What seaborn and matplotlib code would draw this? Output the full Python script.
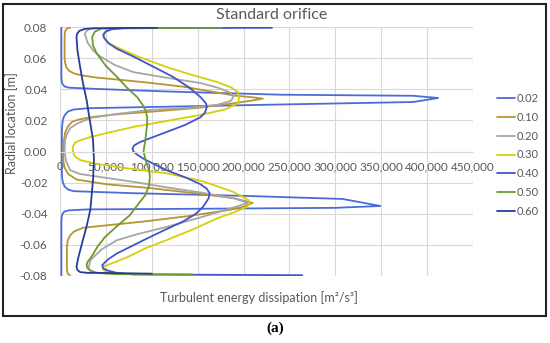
import matplotlib
matplotlib.use("Agg")
import matplotlib.pyplot as plt
import numpy as np
import pandas as pd
import seaborn as sns
from matplotlib.patches import Rectangle
from matplotlib.ticker import FuncFormatter

# ---------------------------------------------------------------------------
# data: dissipation [m2/s3] vs radial location [m]
# ---------------------------------------------------------------------------
series_labels = ["0.02", "0.10", "0.20", "0.30", "0.40", "0.50", "0.60"]
series_colors = ["#4a6cd8", "#b89530", "#a6a6a6", "#d6cf0a", "#3f55cc", "#6f9a2e", "#283c98"]

x_002 = [1500, 1500, 1700, 2500, 5000, 10000, 40000, 120000, 240000, 385000, 412000, 385000,
         240000, 100000, 30000, 15000, 9000, 6000, 4000, 3000, 2300, 2000, 2000, 2000, 2300,
         3200, 5000, 9000, 15000, 80000, 200000, 308000, 349000, 300000, 150000, 30000, 10000,
         5000, 2800, 1800, 1500, 1500]
y_002 = [0.080, 0.050, 0.046, 0.0435, 0.0418, 0.041, 0.0402, 0.0385, 0.0365, 0.0358, 0.0344, 0.0318,
         0.0302, 0.0286, 0.0278, 0.027, 0.0258, 0.024, 0.022, 0.020, 0.016, 0.012, 0.0, -0.012, -0.017,
         -0.020, -0.0225, -0.0245, -0.0255, -0.0268, -0.0285, -0.0305, -0.035, -0.0362, -0.0368,
         -0.0372, -0.0378, -0.0385, -0.040, -0.042, -0.045, -0.080]

x_010 = [11000, 8000, 6000, 5200, 5000, 5000, 5500, 7000, 10000, 16000, 26000, 40000, 70000,
         100000, 136000, 165000, 189000, 210000, 221000, 210000, 189000, 150000, 98000, 60000,
         33000, 20000, 13000, 8500, 5500, 4200, 3500, 3800, 5500, 9000, 18000, 50000, 98000,
         150000, 189000, 210000, 200000, 185000, 140000, 91000, 50000, 25000, 15000, 11000, 8500,
         7500, 7500, 8500, 11000]
y_010 = [0.0795, 0.0792, 0.078, 0.076, 0.072, 0.060, 0.057, 0.054, 0.0518, 0.050, 0.0487, 0.0475,
         0.0458, 0.044, 0.0415, 0.0385, 0.036, 0.0348, 0.034, 0.0328, 0.031, 0.028, 0.0255, 0.0238,
         0.022, 0.0205, 0.019, 0.016, 0.012, 0.007, 0.0, -0.007, -0.011, -0.0145, -0.018, -0.021,
         -0.0235, -0.027, -0.030, -0.033, -0.0355, -0.0375, -0.0415, -0.045, -0.0475, -0.049,
         -0.0515, -0.054, -0.057, -0.061, -0.076, -0.0785, -0.0795]

x_020 = [40000, 33000, 29000, 27000, 30000, 36000, 44000, 60000, 80000, 115000, 153000, 172000,
         185000, 189000, 186000, 171000, 140000, 98000, 60000, 33000, 19000, 11000, 7500, 5500,
         5000, 6500, 11000, 22000, 44000, 80000, 116000, 155000, 189000, 205000, 189000, 155000,
         116000, 85000, 62000, 45000, 33000, 31000, 34000, 40000]
y_020 = [0.0795, 0.079, 0.0775, 0.0755, 0.070, 0.065, 0.061, 0.0555, 0.051, 0.0475, 0.044, 0.041,
         0.038, 0.035, 0.0325, 0.030, 0.028, 0.0267, 0.024, 0.0215, 0.018, 0.015, 0.011, 0.0074,
         0.0, -0.006, -0.012, -0.0145, -0.0164, -0.0195, -0.023, -0.0265, -0.030, -0.033, -0.036,
         -0.042, -0.0485, -0.053, -0.057, -0.063, -0.070, -0.075, -0.077, -0.078]

x_030 = [58000, 51000, 48000, 48000, 52000, 62000, 85000, 116000, 145000, 171000, 187000, 194000,
         195000, 194000, 180000, 153000, 115000, 80000, 52000, 33000, 21000, 16000, 14000, 14000,
         16000, 22000, 40000, 70000, 116000, 155000, 189000, 205000, 207000, 204000, 190000, 171000,
         145000, 116000, 92000, 73000, 58000, 47000, 47000, 51000, 62000]
y_030 = [0.0795, 0.0785, 0.076, 0.0736, 0.070, 0.067, 0.061, 0.0543, 0.049, 0.0447, 0.041, 0.038,
         0.0345, 0.031, 0.027, 0.0235, 0.0195, 0.0158, 0.012, 0.0093, 0.007, 0.0055, 0.003, 0.0,
         -0.003, -0.0055, -0.008, -0.0105, -0.014, -0.019, -0.026, -0.031, -0.033, -0.0355, -0.039,
         -0.043, -0.050, -0.057, -0.0625, -0.068, -0.0715, -0.074, -0.076, -0.0775, -0.079]

x_040 = [231000, 70000, 56000, 50000, 47000, 48000, 53000, 62000, 80000, 100000, 123000, 141000,
         153000, 159000, 160000, 158000, 153000, 136000, 116000, 98000, 87000, 81000, 79000, 80000,
         84000, 92000, 116000, 138000, 153000, 160000, 163000, 162000, 156000, 148000, 134000,
         112000, 91000, 74000, 62000, 52000, 46000, 47000, 52000, 62000, 80000, 264000]
y_040 = [0.0795, 0.0792, 0.0785, 0.077, 0.075, 0.073, 0.0695, 0.066, 0.061, 0.055, 0.048, 0.041,
         0.035, 0.031, 0.0286, 0.025, 0.022, 0.017, 0.0125, 0.0085, 0.006, 0.004, 0.002, 0.0, -0.002,
         -0.005, -0.012, -0.017, -0.021, -0.024, -0.0267, -0.030, -0.0355, -0.040, -0.045, -0.051,
         -0.057, -0.062, -0.0655, -0.0695, -0.073, -0.075, -0.0765, -0.078, -0.079, -0.0795]

x_050 = [176000, 60000, 45000, 38000, 35000, 36000, 40000, 50000, 62000, 73000, 84000, 90000, 93000,
         95000, 95000, 93000, 91000, 94000, 97000, 98000, 97000, 93000, 85000, 76000, 62000, 49000,
         41000, 35000, 30000, 29000, 30000, 33000, 40000, 60000, 144000]
y_050 = [0.0795, 0.0792, 0.079, 0.077, 0.0736, 0.068, 0.063, 0.055, 0.048, 0.041, 0.035, 0.030,
         0.0267, 0.022, 0.018, 0.0074, 0.0, -0.007, -0.012, -0.016, -0.022, -0.028, -0.034, -0.041,
         -0.048, -0.055, -0.061, -0.067, -0.071, -0.073, -0.075, -0.0765, -0.078, -0.0788, -0.079]

x_060 = [106000, 40000, 27000, 21000, 18500, 18000, 19000, 22000, 25000, 29000, 32500, 36000, 37000,
         36000, 34500, 33000, 29000, 24000, 20000, 18000, 19000, 22000, 30000, 44000, 100000]
y_060 = [0.0795, 0.0792, 0.0788, 0.0775, 0.0755, 0.0736, 0.065, 0.054, 0.044, 0.033, 0.020, 0.0074,
         -0.0055, -0.018, -0.028, -0.0376, -0.048, -0.059, -0.068, -0.074, -0.0762, -0.0775, -0.078,
         -0.078, -0.0785]

x_ticks = [0, 50000, 100000, 150000, 200000, 250000, 300000, 350000, 400000, 450000]
y_ticks = [-0.08, -0.06, -0.04, -0.02, 0.00, 0.02, 0.04, 0.06, 0.08]

all_x = [x_002, x_010, x_020, x_030, x_040, x_050, x_060]
all_y = [y_002, y_010, y_020, y_030, y_040, y_050, y_060]
frames = []
for lab, xs, ys in zip(series_labels, all_x, all_y):
    frames.append(pd.DataFrame({"series": lab, "diss": xs, "r": ys}))
df = pd.concat(frames, ignore_index=True)

# ---------------------------------------------------------------------------
# plot
# ---------------------------------------------------------------------------
sns.set_theme(style="whitegrid")
plt.rcParams["font.family"] = ["Lato", "DejaVu Sans"]
plt.rcParams["axes.unicode_minus"] = False
grey = "#595959"

fig = plt.figure(figsize=(5.5, 3.43), dpi=100)
ax = fig.add_axes([60 / 550, 1 - 276 / 343, 413 / 550, 249 / 343])

sns.lineplot(data=df, x="diss", y="r", hue="series", palette=dict(zip(series_labels, series_colors)),
             sort=False, estimator=None, lw=1.3, ax=ax, legend=True)

ax.set_xlim(0, 450000)
ax.set_ylim(-0.08, 0.08)
ax.set_xticks(x_ticks)
ax.set_yticks(y_ticks)
ax.xaxis.set_major_formatter(FuncFormatter(lambda v, p: f"{int(v):,}"))
ax.yaxis.set_major_formatter(FuncFormatter(lambda v, p: f"{v:.2f}"))
ax.grid(True, color="#d9d9d9", lw=0.8)
for s in ["top", "right", "left"]:
    ax.spines[s].set_visible(False)
ax.spines["bottom"].set_position(("data", 0))
ax.spines["bottom"].set_color("#d9d9d9")
ax.spines["bottom"].set_linewidth(0.8)
ax.tick_params(axis="x", length=0, pad=7, labelsize=8.5, labelcolor=grey)
ax.tick_params(axis="y", length=0, pad=9, labelsize=8.5, labelcolor=grey)
ax.set_xlabel("")
ax.set_ylabel("")

leg = ax.legend(loc="center left", bbox_to_anchor=(497 / 550, 1 - 155 / 343),
                bbox_transform=fig.transFigure, frameon=False, fontsize=8,
                handlelength=1.6, handletextpad=0.15, labelspacing=0.7, borderpad=0,
                borderaxespad=0)
for t in leg.get_texts():
    t.set_color(grey)

fig.text(272 / 550, 1 - 15 / 343, "Standard orifice", ha="center", va="center",
         fontsize=11.5, color=grey)
fig.text(259 / 550, 1 - 298 / 343, "Turbulent energy dissipation [m\u00b2/s\u00b3]",
         ha="center", va="center", fontsize=9, color=grey)
fig.text(12 / 550, 1 - 123 / 343, "Radial location [m]", rotation=90, ha="center",
         va="center", fontsize=9, color=grey)
fig.text(275 / 550, 1 - 328 / 343, "(a)", ha="center", va="center", fontsize=11,
         fontweight="bold", family=["Liberation Serif", "DejaVu Serif"], color="black")

fig.add_artist(Rectangle((3 / 550, 1 - 316 / 343), 543 / 550, 312 / 343,
                         transform=fig.transFigure, fill=False, lw=1.5, ec="#222222"))

fig.savefig("out.png", dpi=100)
